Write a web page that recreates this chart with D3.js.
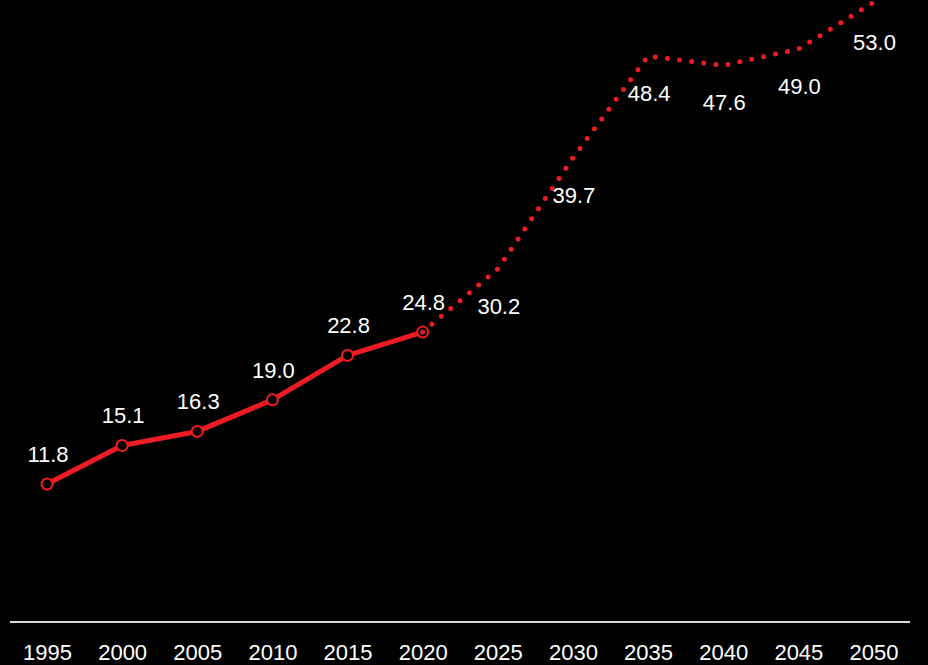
<!DOCTYPE html>
<html>
<head>
<meta charset="utf-8">
<script src="https://cdn.jsdelivr.net/npm/d3@7/dist/d3.min.js"></script>
<style>
  html, body { margin: 0; padding: 0; background: #000; }
  svg { display: block; }
  text { font-family: Arial, "Liberation Sans", sans-serif; fill: #fff; }
</style>
</head>
<body>
<svg id="chart" width="928" height="665"></svg>
<script>
const years = [1995, 2000, 2005, 2010, 2015, 2020, 2025, 2030, 2035, 2040, 2045, 2050];
const values = [11.8, 15.1, 16.3, 19.0, 22.8, 24.8, 30.2, 39.7, 48.4, 47.6, 49.0, 53.0];
const actualYears = [1995, 2000, 2005, 2010, 2015, 2020];
const tickLabels = ["1995","2000","2005","2010","2015","2020","2025","2030","2035","2040","2045","2050"];

const data = years.map((y, i) => ({ year: y, value: values[i] }));
const actual = data.filter(d => actualYears.includes(d.year));
const projected = data.filter(d => d.year >= 2020);

const svg = d3.select("#chart");
const red = "#ED1C24";

const x = d3.scalePoint().domain(years).range([47, 873.5]);
const y = d3.scaleLinear().domain([0, 53.2]).range([622, 0]);

// axis line
svg.append("line")
  .attr("x1", 10).attr("x2", 910)
  .attr("y1", y(0)).attr("y2", y(0))
  .attr("stroke", "#d9d9d9").attr("stroke-width", 2);

// axis tick labels
const xAxis = d3.axisBottom(x).tickSize(0).tickPadding(0).tickFormat((d, i) => tickLabels[i]);
const gx = svg.append("g").attr("transform", `translate(0,${y(0)})`).call(xAxis);
gx.select(".domain").remove();
gx.selectAll("text")
  .attr("y", 30).attr("dy", "0.35em")
  .style("font-size", "22px").attr("fill", "#fff")
  .style("font-family", "Arial, 'Liberation Sans', sans-serif");

const line = d3.line().x(d => x(d.year)).y(d => y(d.value));

// projected dotted line
svg.append("path")
  .datum(projected)
  .attr("d", line)
  .attr("fill", "none")
  .attr("stroke", red)
  .attr("stroke-width", 5)
  .attr("stroke-linecap", "round")
  .attr("stroke-dasharray", "0 12.2");

// actual solid line
svg.append("path")
  .datum(actual)
  .attr("d", line)
  .attr("fill", "none")
  .attr("stroke", red)
  .attr("stroke-width", 5)
  .attr("stroke-linejoin", "round");

// markers
svg.selectAll("circle.m")
  .data(actual)
  .join("circle")
  .attr("class", "m")
  .attr("cx", d => x(d.year)).attr("cy", d => y(d.value))
  .attr("r", 5.5)
  .attr("fill", "#000")
  .attr("stroke", red)
  .attr("stroke-width", 2);

// inner dot on last actual point
svg.append("circle")
  .attr("cx", x(2020)).attr("cy", y(24.8))
  .attr("r", 2.5).attr("fill", red);

// labels
svg.selectAll("text.lab")
  .data(data)
  .join("text")
  .attr("class", "lab")
  .attr("x", d => x(d.year) + 1)
  .attr("y", d => actualYears.includes(d.year) ? y(d.value) - 30 : y(d.value) + 37 + (d.year === 2050 ? 3 : 0))
  .attr("dy", "0.35em")
  .attr("text-anchor", "middle")
  .style("font-size", "22px")
  .text(d => d.value.toFixed(1));
</script>
</body>
</html>
